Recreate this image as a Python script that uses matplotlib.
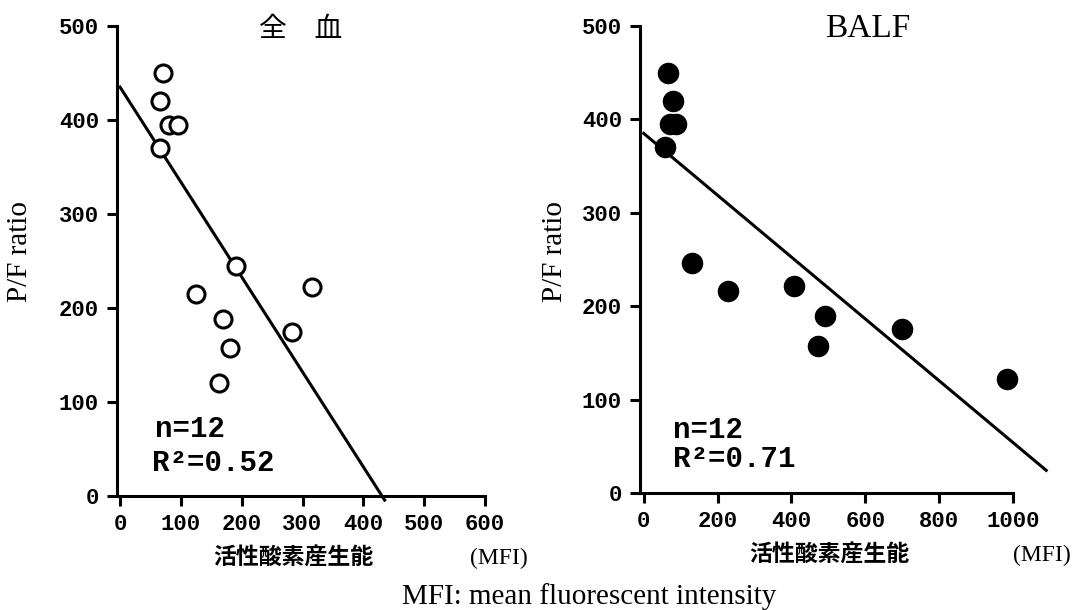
import matplotlib
matplotlib.use('Agg')
import matplotlib.pyplot as plt

# P/F ratio vs. reactive oxygen production (MFI), whole blood and BALF
blood_mfi = [70, 65, 80, 95, 65, 190, 125, 315, 170, 283, 180, 162]
blood_pf = [450, 420, 395, 395, 370, 245, 215, 222, 188, 175, 157, 120]
balf_mfi = [65, 80, 70, 88, 57, 130, 228, 406, 490, 472, 700, 984]
balf_pf = [450, 420, 395, 395, 370, 246, 216, 222, 189, 157, 176, 122]

# regression lines (intercept, slope, x range)
blood_fit = (435, -1.01, [0, 435])
balf_fit = (385, -0.331, [0, 1090])

blood_ticks_x = [0, 100, 200, 300, 400, 500, 600]
balf_ticks_x = [0, 200, 400, 600, 800, 1000]
ticks_y = [0, 100, 200, 300, 400, 500]

titles = ["全\u3000血", "BALF"]
stats = [("n=12", "R²=0.52"), ("n=12", "R²=0.71")]
xlabel = "活性酸素産生能"

W, H = 1076, 610
fig = plt.figure(figsize=(W / 100, H / 100), dpi=100)

def px(x0, y0, x1, y1):
    # pixel box (top-left origin) -> figure fraction rect
    return [x0 / W, 1 - y1 / H, (x1 - x0) / W, (y1 - y0) / H]

ax1 = fig.add_axes(px(117, 26, 485, 496))
ax2 = fig.add_axes(px(640, 26, 1013, 493))

mono = 'Liberation Mono'
serif = 'Liberation Serif'
cjk = 'Noto Sans CJK JP'

def style(ax, xticks, xmax, xpad):
    ax.set_xlim(-xpad, xmax)
    ax.set_ylim(0, 500)
    ax.set_xticks(xticks)
    ax.set_yticks(ticks_y)
    for s in ['top', 'right']:
        ax.spines[s].set_visible(False)
    for s in ['left', 'bottom']:
        ax.spines[s].set_linewidth(2.2)
    ax.tick_params(width=2.2, length=7, direction='out', pad=6)
    for lab in ax.get_xticklabels() + ax.get_yticklabels():
        lab.set_fontfamily(mono)
        lab.set_fontweight('bold')
        lab.set_fontsize(16)

style(ax1, blood_ticks_x, 600, 5)
style(ax2, balf_ticks_x, 1000, 10)

ax1.scatter(blood_mfi, blood_pf, s=150, facecolors='white', edgecolors='black',
            linewidths=2.2, zorder=3, clip_on=False)
ax2.scatter(balf_mfi, balf_pf, s=210, c='black', zorder=3, clip_on=False)

for ax, (b, m, xr) in [(ax1, blood_fit), (ax2, balf_fit)]:
    ax.plot(xr, [b + m * x for x in xr], color='black', lw=2.2, clip_on=False, zorder=2)

# stats text
ax1.text(58, 63, stats[0][0], fontfamily=mono, fontweight='bold', fontsize=21)
ax1.text(52, 27, stats[0][1], fontfamily=mono, fontweight='bold', fontsize=21)
ax2.text(79, 59, stats[1][0], fontfamily=mono, fontweight='bold', fontsize=21)
ax2.text(79, 28, stats[1][1], fontfamily=mono, fontweight='bold', fontsize=21)

# panel titles
fig.text(301 / W, 1 - 29 / H, titles[0], fontfamily=cjk, fontsize=20,
         ha='center', va='center')
fig.text(868 / W, 1 - 29 / H, titles[1], fontfamily=serif, fontsize=24,
         ha='center', va='center')

# y labels
for x in [20, 555]:
    fig.text(x / W, 1 - 252 / H, "P/F ratio", fontfamily=serif, fontsize=21,
             rotation=90, ha='center', va='center')

# x labels
fig.text(293 / W, 1 - 558 / H, xlabel, fontfamily=cjk, fontweight='bold',
         fontsize=16.5, ha='center', va='center')
fig.text(829 / W, 1 - 555 / H, xlabel, fontfamily=cjk, fontweight='bold',
         fontsize=16.5, ha='center', va='center')
fig.text(499 / W, 1 - 558 / H, "(MFI)", fontfamily=serif, fontsize=17,
         ha='center', va='center')
fig.text(1042 / W, 1 - 555 / H, "(MFI)", fontfamily=serif, fontsize=17,
         ha='center', va='center')

fig.text(589 / W, 1 - 597 / H, "MFI: mean fluorescent intensity", fontfamily=serif,
         fontsize=21, ha='center', va='center')

fig.savefig('out.png', dpi=100)
